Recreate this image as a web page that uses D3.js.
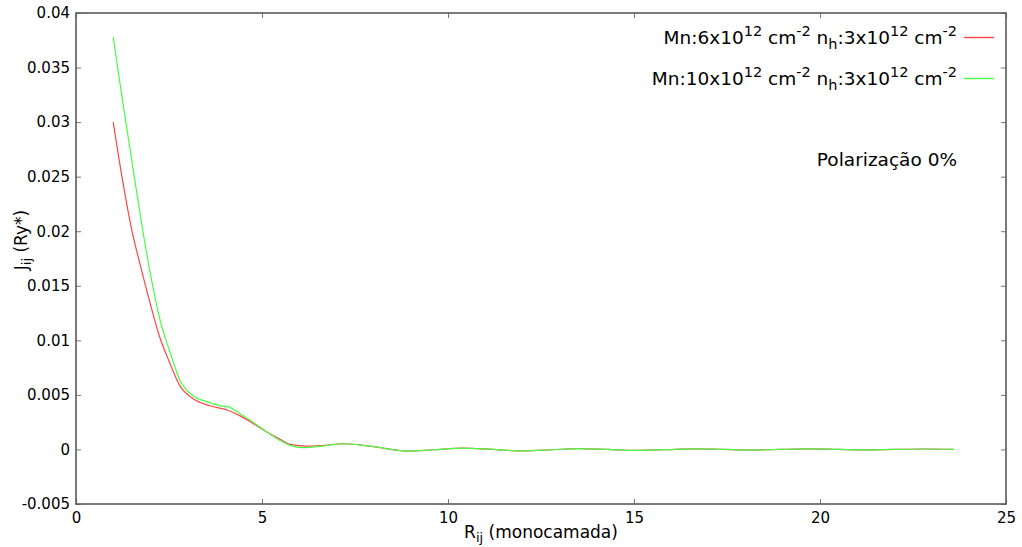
<!DOCTYPE html>
<html>
<head>
<meta charset="utf-8">
<script src="https://cdn.jsdelivr.net/npm/d3@7"></script>
<style>
  body { margin: 0; background: #fff; }
  svg { display: block; font-family: "DejaVu Sans", sans-serif; }
</style>
</head>
<body>
<div class="demoWrapper"></div>
<script>
"use strict";

// series (x in monolayers, J in Ry*)
var redX = [1, 1.25, 1.5, 1.75, 2.0, 2.25, 2.5, 2.8, 3.15, 3.6, 4.1, 4.4, 4.8, 5.13, 5.5, 5.75, 6.2, 6.6, 7.2, 8.0, 8.9, 9.6, 10.4, 11.2, 12.0, 12.8, 13.5, 14.3, 15.0, 15.8, 16.6, 17.4, 18.1, 18.9, 19.7, 20.5, 21.2, 22.0, 22.8, 23.6];
var redY = [0.0300, 0.0247, 0.0201, 0.0166, 0.0133, 0.0103, 0.0081, 0.0058, 0.00465, 0.0040, 0.00357, 0.0031, 0.0023, 0.0016, 0.0009, 0.00046, 0.0003, 0.00035, 0.00052, 0.00025, -0.00015, -0.00003, 0.00012, 0.0, -0.00013, -0.00003, 0.00008, 0.0, -0.00008, -0.00002, 0.00006, 0.0, -0.00006, 0.0, 0.00005, 0.0, -0.00004, 0.0, 0.00004, 0.0];
var greenX = [1, 1.25, 1.5, 1.75, 2.0, 2.25, 2.5, 2.8, 3.15, 3.5, 3.9, 4.1, 4.4, 4.8, 5.13, 5.5, 5.75, 6.1, 6.6, 7.2, 8.0, 8.9, 9.6, 10.4, 11.2, 12.0, 12.8, 13.5, 14.3, 15.0, 15.8, 16.6, 17.4, 18.1, 18.9, 19.7, 20.5, 21.2, 22.0, 22.8, 23.6];
var greenY = [0.0378, 0.0320, 0.0265, 0.0210, 0.0161, 0.0120, 0.0092, 0.0063, 0.0049, 0.0044, 0.0040, 0.0039, 0.0033, 0.0024, 0.0016, 0.0008, 0.00037, 0.00016, 0.0003, 0.00052, 0.00025, -0.00015, -0.00003, 0.00012, 0.0, -0.00013, -0.00003, 0.00008, 0.0, -0.00008, -0.00002, 0.00006, 0.0, -0.00006, 0.0, 0.00005, 0.0, -0.00004, 0.0, 0.00004, 0.0];

var seriesNames = ["Mn:6x10^{12} cm^{-2} n_{h}:3x10^{12} cm^{-2}", "Mn:10x10^{12} cm^{-2} n_{h}:3x10^{12} cm^{-2}"];
var seriesColors = ["#ff4545", "#45ff45"];

var xTicks = [0, 5, 10, 15, 20, 25];
var xTickLabels = ["0", "5", "10", "15", "20", "25"];
var yTicks = [-0.005, 0, 0.005, 0.01, 0.015, 0.02, 0.025, 0.03, 0.035, 0.04];
var yTickLabels = ["-0.005", "0", "0.005", "0.01", "0.015", "0.02", "0.025", "0.03", "0.035", "0.04"];

var xTitle = "R_{ij} (monocamada)";
var yTitle = "J_{ij} (Ry*)";
var note = "Polarização 0%";

var totalWidth = 1022;
var totalHeight = 547;
var margin = {
  "top": 13,
  "bottom": 43,
  "left": 76,
  "right": 16
};
var width = totalWidth - margin.left - margin.right;
var height = totalHeight - margin.top - margin.bottom;
var frameColor = "#595959";

var x = d3.scaleLinear().domain([0, 25]).range([0, width]);
var y = d3.scaleLinear().domain([-0.005, 0.04]).range([height, 0]);

var svg = d3.select(".demoWrapper").append("svg").attr("width", totalWidth).attr("height", totalHeight);
var canvas = svg.append("g").attr("transform", "translate(" + margin.left + "," + margin.top + ")");

// gnuplot-like enhanced text: ^{..} superscript, _{..} subscript
function richText(sel, str, size, smallSize) {
  var parts = str.split(/(\^\{[^}]*\}|_\{[^}]*\})/);
  var shift = 0;
  parts.forEach(function (p) {
    if (p === "") return;
    var target = 0;
    var txt = p;
    var fs = size;
    if (p.charAt(0) === "^") {
      target = -0.42 * size;
      txt = p.slice(2, -1);
      fs = smallSize;
    } else if (p.charAt(0) === "_") {
      target = 0.25 * size;
      txt = p.slice(2, -1);
      fs = smallSize;
    }
    sel.append("tspan").attr("dy", target - shift).style("font-size", fs + "px").text(txt);
    shift = target;
  });
}

// mirrored inward ticks on all four sides
function tickAxis(axis, vals, labels) {
  return axis.tickValues(vals).tickSize(-5).tickFormat(function (d, i) {
    return labels ? labels[i] : "";
  });
}

var gX = canvas.append("g").attr("transform", "translate(0," + height + ")").call(tickAxis(d3.axisBottom(x), xTicks, xTickLabels).tickPadding(8));
var gY = canvas.append("g").call(tickAxis(d3.axisLeft(y), yTicks, yTickLabels).tickPadding(6));
var gTop = canvas.append("g").call(tickAxis(d3.axisTop(x), xTicks, null));
var gRight = canvas.append("g").attr("transform", "translate(" + width + ",0)").call(tickAxis(d3.axisRight(y), yTicks, null));

[gX, gY, gTop, gRight].forEach(function (g) {
  g.select(".domain").remove();
  g.selectAll(".tick line").attr("stroke", "#777").attr("stroke-width", 1);
  g.selectAll(".tick text").attr("fill", "#000").style("font-size", "15px").style("font-family", "DejaVu Sans, sans-serif");
});

canvas.append("rect").attr("x", 0).attr("y", 0).attr("width", width).attr("height", height).attr("fill", "none").attr("stroke", frameColor).attr("stroke-width", 1.6);

// curves
var line = d3.line().x(function (d) {
  return x(d[0]);
}).y(function (d) {
  return y(d[1]);
}).curve(d3.curveMonotoneX);

var series = [d3.zip(redX, redY), d3.zip(greenX, greenY)];
canvas.selectAll(".curve").data(series).enter().append("path").attr("class", "curve").attr("fill", "none").attr("stroke", function (d, i) {
  return seriesColors[i];
}).attr("stroke-width", 1.2).attr("d", line);

// legend
var legendRight = 957 - margin.left;
var legend = canvas.selectAll(".legend").data(seriesNames).enter().append("g").attr("class", "legend").attr("transform", function (d, i) {
  return "translate(0," + (31 + i * 41) + ")";
});
legend.append("text").attr("x", legendRight).attr("y", 0).attr("text-anchor", "end").attr("fill", "#000").each(function (d) {
  richText(d3.select(this), d, 18.5, 14.5);
});
legend.append("line").attr("x1", legendRight + 7).attr("x2", legendRight + 37).attr("y1", -6.5).attr("y2", -6.5).attr("stroke", function (d, i) {
  return seriesColors[i];
}).attr("stroke-width", 1.4);

canvas.append("text").attr("x", legendRight).attr("y", 166 - margin.top).attr("text-anchor", "end").attr("fill", "#000").style("font-size", "18.5px").text(note);

// axis titles
var xt = svg.append("text").attr("x", margin.left + width / 2).attr("y", 538).attr("text-anchor", "middle").attr("fill", "#000");
richText(xt, xTitle, 17, 13);
var yt = svg.append("text").attr("transform", "translate(27,240) rotate(-90)").attr("text-anchor", "middle").attr("fill", "#000");
richText(yt, yTitle, 17, 13);
</script>
</body>
</html>
